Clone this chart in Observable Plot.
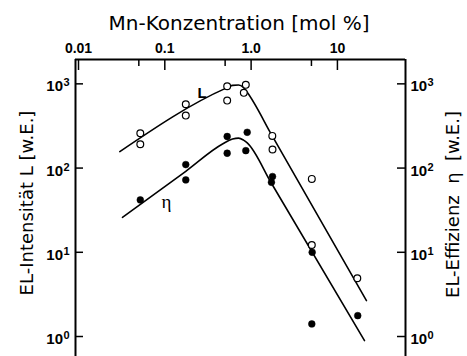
<!DOCTYPE html>
<html>
<head>
<meta charset="utf-8">
<script src="https://cdn.jsdelivr.net/npm/d3@7"></script>
<script src="https://cdn.jsdelivr.net/npm/@observablehq/plot@0.6"></script>
<style>
  html, body { margin: 0; padding: 0; background: #fff; overflow: hidden; }
</style>
</head>
<body>
<div id="chart"></div>
<script>
// ---- data ----
const xTitle = "Mn-Konzentration [mol %]";
const yLeftTitle = "EL-Intensität L [w.E.]";
const yRightTitle = "EL-Effizienz\u00a0\u00a0η\u00a0\u00a0[w.E.]";

const xMajorTicks = [0.01, 0.1, 1, 10];
const xMajorLabels = ["0.01", "0.1", "1.0", "10"];
const xMinorTicks = [0.05, 0.5, 5];
const yDecades = [1, 10, 100, 1000];
const yExponents = ["0", "1", "2", "3"];

// open circles: EL intensity L
const concL = [0.052, 0.052, 0.175, 0.175, 0.528, 0.528, 0.868, 0.823, 1.76, 1.77, 5.05, 5.05, 17.0];
const intensityL = [259, 192, 572, 420, 937, 633, 973, 782, 241, 166, 74.4, 12.2, 4.91];

// filled circles: EL efficiency eta
const concEta = [0.052, 0.175, 0.175, 0.528, 0.528, 0.901, 0.868, 1.77, 1.72, 5.1, 5.05, 17.2];
const efficiencyEta = [41.9, 110, 72.4, 237, 150, 266, 161, 79.3, 67.8, 10.0, 1.41, 1.77];

// fitted curves
const fitLConc = [0.0301, 0.505, 0.609, 0.715, 0.816, 0.896, 1.756, 21.7];
const fitLValue = [157, 884, 960, 968, 904, 801, 241, 2.67];
const fitEtaConc = [0.0323, 0.175, 0.466, 0.609, 0.715, 0.816, 0.908, 1.72, 20.6];
const fitEtaValue = [26.0, 91.6, 193, 221, 227, 215, 198, 66.0, 0.894];

// curve labels
const curveLabels = ["L", "η"];
const curveLabelConc = [0.271, 0.1047];
const curveLabelValue = [782, 39.3];

// ---- build ----
const xDomain = [0.00923, 61.5];
const yDomain = [0.579, 1946];
const W = 467, H = 356, mT = 59, mB = 0, mL = 75, mR = 62;
const frameW = W - mL - mR, frameH = H - mT - mB;

const pts = (xs, ys) => xs.map((x, i) => ({x, y: ys[i]}));
const dataL = pts(concL, intensityL);
const dataEta = pts(concEta, efficiencyEta);
const lineL = pts(fitLConc, fitLValue);
const lineEta = pts(fitEtaConc, fitEtaValue);
const labels = curveLabels.map((t, i) => ({t, x: curveLabelConc[i], y: curveLabelValue[i]}));

const sans = "'DejaVu Sans', sans-serif";
const tickFont = "'Liberation Sans', Arial, Helvetica, sans-serif";

const chart = Plot.plot({
  width: W, height: H,
  marginTop: mT, marginBottom: mB, marginLeft: mL, marginRight: mR,
  style: {background: "white", overflow: "visible"},
  x: {type: "log", domain: xDomain, axis: null},
  y: {type: "log", domain: yDomain, axis: null},
  marks: [
    // frame (left, right, top)
    Plot.ruleX([xDomain[0], xDomain[1]], {x: d => d, stroke: "black", strokeWidth: 2}),
    Plot.ruleY([yDomain[1]], {y: d => d, stroke: "black", strokeWidth: 2}),
    // top ticks
    Plot.tickX(xMajorTicks, {x: d => d, insetBottom: frameH - 11, stroke: "black", strokeWidth: 1.5}),
    Plot.tickX(xMinorTicks, {x: d => d, insetBottom: frameH - 7, stroke: "black", strokeWidth: 1.5}),
    // y ticks (inward)
    Plot.tickY(yDecades, {y: d => d, insetRight: frameW - 8, stroke: "black", strokeWidth: 1.5}),
    Plot.tickY(yDecades, {y: d => d, insetLeft: frameW - 8, stroke: "black", strokeWidth: 1.5}),
    // top tick labels
    Plot.text(xMajorTicks, {x: d => d, text: (d, i) => xMajorLabels[i], frameAnchor: "top", textAnchor: "middle", lineAnchor: "bottom",
      dy: -7, fontSize: 14, fontWeight: "bold", fontFamily: tickFont, fill: "black"}),
    // left y labels 10^n
    Plot.text(yDecades, {y: d => d, text: () => "10", frameAnchor: "left", textAnchor: "end", lineAnchor: "bottom",
      dx: -12.5, dy: 7.5, fontSize: 15, fontWeight: "bold", fontFamily: tickFont, fill: "black"}),
    Plot.text(yDecades, {y: d => d, text: (d, i) => yExponents[i], frameAnchor: "left", textAnchor: "start", lineAnchor: "bottom",
      dx: -12, dy: 2.5, fontSize: 11, fontWeight: "bold", fontFamily: tickFont, fill: "black"}),
    // right y labels
    Plot.text(yDecades, {y: d => d, text: () => "10", frameAnchor: "right", textAnchor: "start", lineAnchor: "bottom",
      dx: 5, dy: 7.5, fontSize: 15, fontWeight: "bold", fontFamily: tickFont, fill: "black"}),
    Plot.text(yDecades, {y: d => d, text: (d, i) => yExponents[i], frameAnchor: "right", textAnchor: "start", lineAnchor: "bottom",
      dx: 22, dy: 2.5, fontSize: 11, fontWeight: "bold", fontFamily: tickFont, fill: "black"}),
    // titles
    Plot.text([xTitle], {text: d => d, frameAnchor: "top", textAnchor: "middle", lineAnchor: "bottom", dx: -1.5, dy: -30,
      fontSize: 20, fontFamily: sans, fill: "black"}),
    Plot.text([yLeftTitle], {text: d => d, frameAnchor: "left", textAnchor: "middle", lineAnchor: "middle", rotate: -90, dx: -48, dy: -5,
      fontSize: 18, fontFamily: sans, fill: "black"}),
    Plot.text([yRightTitle], {text: d => d, frameAnchor: "right", textAnchor: "middle", lineAnchor: "middle", rotate: -90, dx: 48, dy: -3.5,
      fontSize: 18, fontFamily: sans, fill: "black"}),
    // fitted lines
    Plot.line(lineL, {x: "x", y: "y", curve: "monotone-x", stroke: "black", strokeWidth: 1.6}),
    Plot.line(lineEta, {x: "x", y: "y", curve: "monotone-x", stroke: "black", strokeWidth: 1.6}),
    // markers
    Plot.dot(dataL, {x: "x", y: "y", r: 3.4, fill: "white", stroke: "black", strokeWidth: 1.2}),
    Plot.dot(dataEta, {x: "x", y: "y", r: 3.4, fill: "black", stroke: "black", strokeWidth: 0.5}),
    // curve labels
    Plot.text(labels.slice(0, 1), {x: "x", y: "y", text: "t", fontSize: 15, fontWeight: "bold", fontFamily: tickFont, fill: "black"}),
    Plot.text(labels.slice(1), {x: "x", y: "y", text: "t", fontSize: 19, fontFamily: "'Liberation Serif', serif", fill: "black"})
  ]
});
document.getElementById("chart").appendChild(chart);
</script>
</body>
</html>
